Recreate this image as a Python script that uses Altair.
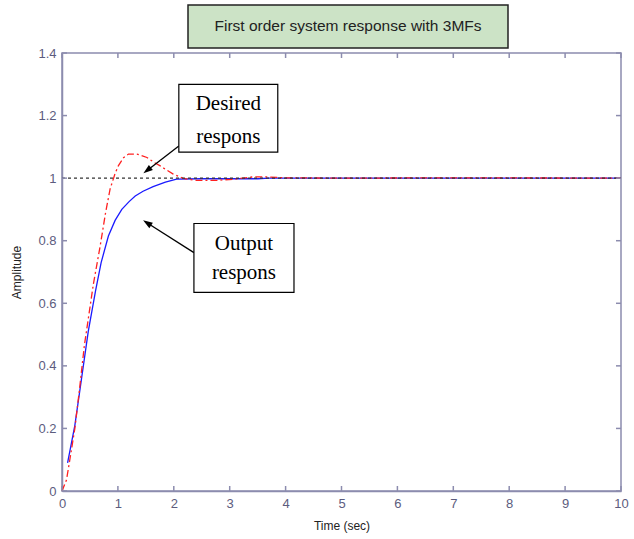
import altair as alt
import pandas as pd

# ---------------- data ----------------
t_out = [0.10, 0.23, 0.35, 0.47, 0.60, 0.70, 0.83, 0.95, 1.07, 1.20, 1.31, 1.45, 1.63, 1.85, 2.05, 2.50, 3.00, 3.50, 3.70, 5.00, 7.00, 10.00]
a_out = [0.09, 0.21, 0.36, 0.51, 0.64, 0.73, 0.815, 0.865, 0.90, 0.925, 0.943, 0.958, 0.973, 0.987, 0.997, 0.998, 0.998, 0.998, 1.0, 1.0, 1.0, 1.0]

t_des = [0.0, 0.08, 0.14, 0.23, 0.32, 0.40, 0.47, 0.56, 0.68, 0.78, 0.86, 0.95, 1.01, 1.10, 1.19, 1.34, 1.52, 1.65, 1.75, 1.88, 1.99, 2.17, 2.40, 2.77, 3.10, 3.42, 3.66, 4.00, 5.00, 7.00, 10.00]
a_des = [0.0, 0.035, 0.10, 0.20, 0.336, 0.465, 0.55, 0.66, 0.78, 0.89, 0.965, 1.015, 1.04, 1.065, 1.077, 1.077, 1.066, 1.05, 1.04, 1.025, 1.013, 0.999, 0.993, 0.993, 0.997, 1.004, 1.004, 1.001, 1.0, 1.001, 1.0]

t_ref = [0.0, 10.0]
a_ref = [1.0, 1.0]

x_ticks = [0, 1, 2, 3, 4, 5, 6, 7, 8, 9, 10]
y_ticks = [0, 0.2, 0.4, 0.6, 0.8, 1.0, 1.2, 1.4]

title_text = "First order system response with 3MFs"
x_title = "Time (sec)"
y_title = "Amplitude"

# annotation boxes (data coordinates)
ann_labels = ["Desired", "Output"]
ann_line1 = ["Desired", "Output"]
ann_line2 = ["respons", "respons"]
ann_t0 = [2.09, 2.36]
ann_t1 = [3.86, 4.15]
ann_a0 = [1.083, 0.635]
ann_a1 = [1.300, 0.855]
ann_a_line1 = [1.237, 0.791]
ann_a_line2 = [1.132, 0.698]
arrow_t_from = [2.09, 2.36]
arrow_a_from = [1.103, 0.762]
arrow_t_to = [1.54, 1.54]
arrow_a_to = [1.027, 0.855]
arrow_angle = [232, 302]

# ---------------- style ----------------
W, H = 559, 438
AXIS_COLOR = "#8c8cae"
LABEL_COLOR = "#5c5c7e"

xs = alt.Scale(domain=[0, 10], nice=False, zero=False)
ys = alt.Scale(domain=[0, 1.4], nice=False, zero=False)

df_out = pd.DataFrame({"t": t_out, "a": a_out})
df_des = pd.DataFrame({"t": t_des, "a": a_des})
df_ref = pd.DataFrame({"t": t_ref, "a": a_ref})
df_xt = pd.DataFrame({"v": x_ticks})
df_yt = pd.DataFrame({"v": y_ticks})
df_ann = pd.DataFrame({
    "label": ann_labels, "l1": ann_line1, "l2": ann_line2,
    "t0": ann_t0, "t1": ann_t1, "a0": ann_a0, "a1": ann_a1,
    "al1": ann_a_line1, "al2": ann_a_line2,
    "tc": [(p + q) / 2 for p, q in zip(ann_t0, ann_t1)],
})
arrow_rows = []
for i in range(len(arrow_t_from)):
    arrow_rows.append({"id": i, "o": 0, "t": arrow_t_from[i], "a": arrow_a_from[i]})
    arrow_rows.append({"id": i, "o": 1, "t": arrow_t_to[i], "a": arrow_a_to[i]})
df_arrow = pd.DataFrame(arrow_rows)
df_head = pd.DataFrame({"t": arrow_t_to, "a": arrow_a_to, "ang": arrow_angle})
df_one = pd.DataFrame({"k": [0]})

x_axis = alt.Axis(values=x_ticks, format="d", ticks=False, grid=False, labelFlush=False,
                  domainColor=AXIS_COLOR, domainWidth=1.5,
                  labelColor=LABEL_COLOR, labelFontSize=13, labelFont="Liberation Sans",
                  labelPadding=6, title=x_title, titleFontSize=12, titleFont="Liberation Sans",
                  titleFontWeight="normal", titleColor="#222222", titlePadding=10)
y_axis = alt.Axis(values=y_ticks, format="~g", ticks=False, grid=False, labelFlush=False,
                  domainColor=AXIS_COLOR, domainWidth=1.5,
                  labelColor=LABEL_COLOR, labelFontSize=13, labelFont="Liberation Sans",
                  labelPadding=6, title=y_title, titleFontSize=12, titleFont="Liberation Sans",
                  titleFontWeight="normal", titleColor="#222222", titlePadding=14)

base_out = alt.Chart(df_out).mark_line(color="#1a1aff", strokeWidth=1.3).encode(
    x=alt.X("t:Q", scale=xs, axis=x_axis),
    y=alt.Y("a:Q", scale=ys, axis=y_axis),
)
des = alt.Chart(df_des).mark_line(color="#ff2020", strokeWidth=1.3, strokeDash=[7, 3, 2, 3]).encode(
    x=alt.X("t:Q", scale=xs), y=alt.Y("a:Q", scale=ys))
ref = alt.Chart(df_ref).mark_line(color="#333333", strokeWidth=1.2, strokeDash=[3, 3]).encode(
    x=alt.X("t:Q", scale=xs), y=alt.Y("a:Q", scale=ys))

# inward ticks on all four sides
tick_style = dict(color=AXIS_COLOR, strokeWidth=1.5)
xt_bot = alt.Chart(df_xt).mark_rule(**tick_style).encode(
    x=alt.X("v:Q", scale=xs), y=alt.value(H), y2=alt.value(H - 5))
xt_top = alt.Chart(df_xt).mark_rule(**tick_style).encode(
    x=alt.X("v:Q", scale=xs), y=alt.value(0), y2=alt.value(5))
yt_left = alt.Chart(df_yt).mark_rule(**tick_style).encode(
    y=alt.Y("v:Q", scale=ys), x=alt.value(0), x2=alt.value(5))
yt_right = alt.Chart(df_yt).mark_rule(**tick_style).encode(
    y=alt.Y("v:Q", scale=ys), x=alt.value(W), x2=alt.value(W - 5))

# annotation boxes
ann_box = alt.Chart(df_ann).mark_rect(fill="white", stroke="black", strokeWidth=1.2).encode(
    x=alt.X("t0:Q", scale=xs), x2="t1:Q", y=alt.Y("a0:Q", scale=ys), y2="a1:Q")
ann_t1m = alt.Chart(df_ann).mark_text(font="Liberation Serif", fontSize=21, color="black").encode(
    x=alt.X("tc:Q", scale=xs), y=alt.Y("al1:Q", scale=ys), text="l1:N")
ann_t2m = alt.Chart(df_ann).mark_text(font="Liberation Serif", fontSize=21, color="black").encode(
    x=alt.X("tc:Q", scale=xs), y=alt.Y("al2:Q", scale=ys), text="l2:N")
arrow_line = alt.Chart(df_arrow).mark_line(color="black", strokeWidth=1.3).encode(
    x=alt.X("t:Q", scale=xs), y=alt.Y("a:Q", scale=ys), detail="id:N", order="o:Q")
arrow_head = alt.Chart(df_head).mark_point(
    shape="M0,-1L0.55,0.6L-0.55,0.6Z", filled=True, color="black", size=140, opacity=1
).encode(x=alt.X("t:Q", scale=xs), y=alt.Y("a:Q", scale=ys), angle=alt.Angle("ang:Q", scale=None))

# title box
title_box = alt.Chart(df_one).mark_rect(fill="#cce3c6", stroke="#222222", strokeWidth=1.5).encode(
    x=alt.value(126), x2=alt.value(446), y=alt.value(-48), y2=alt.value(-5))
title_txt = alt.Chart(df_one).mark_text(font="Liberation Sans", fontSize=15.5, color="#222222").encode(
    x=alt.value(286), y=alt.value(-27), text=alt.value(title_text))

chart = alt.layer(
    base_out, des, ref, xt_bot, xt_top, yt_left, yt_right,
    arrow_line, arrow_head, ann_box, ann_t1m, ann_t2m, title_box, title_txt
).properties(
    width=W, height=H,
    autosize=alt.AutoSizeParams(type="none"),
    padding={"left": 62, "top": 53, "right": 13, "bottom": 48},
    background="white",
).configure_view(stroke=AXIS_COLOR, strokeWidth=1.5)

chart.save("out.html", embed_options={"renderer": "svg", "actions": False})
